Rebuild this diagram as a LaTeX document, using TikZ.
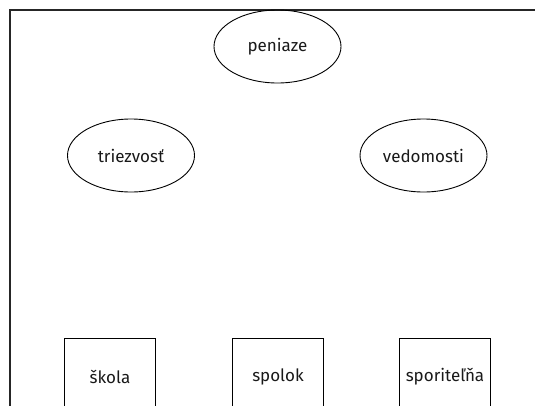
\documentclass[tikz,border=0pt]{standalone}
\usepackage{fontspec}
\setmainfont{Fira Sans}
\usetikzlibrary{shapes.geometric}
\begin{document}
\begin{tikzpicture}[x=1pt,y=-1pt,
  every node/.style={font=\fontsize{17}{20}\selectfont, text=black!90},
  oval/.style={draw, ellipse, line width=0.9pt, minimum width=127pt, minimum height=73pt, inner sep=0pt},
  box/.style={draw, rectangle, line width=0.9pt, minimum width=91pt, minimum height=77pt, inner sep=0pt},
  frameline/.style={draw=black!85, line width=1.2pt}]
\useasboundingbox (0,0) rectangle (535,405);
\clip (0,0) rectangle (535,405);
\coordinate (fr) at (540,10);
\coordinate (fc) at (10,10);
\coordinate (fb) at (10,410);
\draw[frameline] (fr) -- (fc) -- (fb);
\node[oval] (peniaze) at (277.5,46.5) {peniaze};
\node[oval] (triezvost) at (131,155.5) {triezvosť};
\node[oval] (vedomosti) at (423.5,155.5) {vedomosti};
\node[box] (skola) at (110,377) {škola};
\node[box] (spolok) at (278,377) {spolok};
\node[box] (sporitelna) at (445,377) {sporiteľňa};
\end{tikzpicture}
\end{document}
